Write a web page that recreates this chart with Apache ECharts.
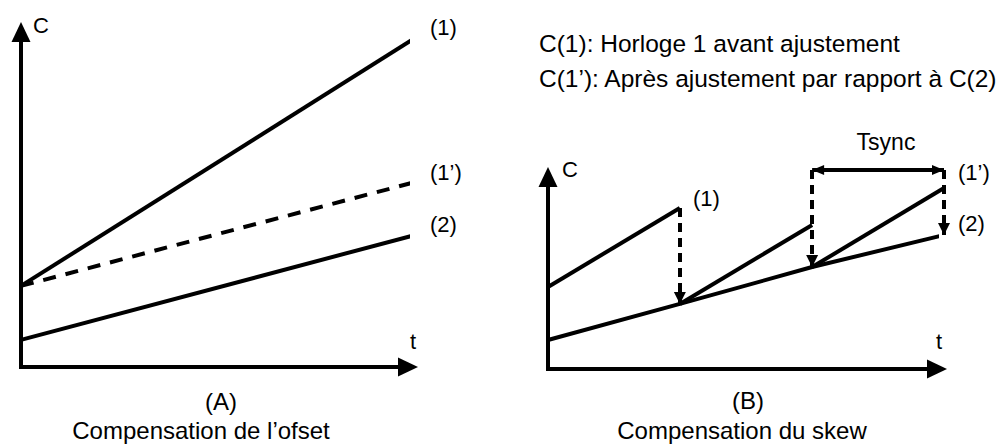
<!DOCTYPE html>
<html>
<head>
<meta charset="utf-8">
<title>Compensation offset / skew</title>
<script src="https://cdn.jsdelivr.net/npm/echarts@6/dist/echarts.min.js"></script>
<style>
  html, body { margin: 0; padding: 0; background: #fff; }
  #chart { width: 999px; height: 444px; }
</style>
</head>
<body>
<div id="chart"></div>
<script>
// (A) compensation de l'offset : horloges en fonction du temps
var offsetT = [0, 101.8];
var offsetC1 = [24.2, 98.2];
var offsetC1p = [24.2, 55.2];
var offsetC2 = [8.1, 39.4];

// (B) compensation du skew
var skewT = [0, 33.9, 67.9, 101.8];
var skewC2 = [15.1, 33.9, 53.1, 69.8];
var skewToothStart = [42.7, 33.9, 53.1];
var skewToothPeak = [83.9, 75.0, 94.3];
var skewCorrTop = [83.9, 103.6, 103.6];
var tsyncLevel = 103.6;

var legendLines = ['C(1): Horloge 1 avant ajustement', 'C(1’): Après ajustement par rapport à C(2)'];

var FONT = '"Liberation Sans", Arial, sans-serif';
var LW = 4;

function pts(xs, ys) {
  return xs.map(function (x, i) { return [x, ys[i]]; });
}

function txt(str, x, y, size, align) {
  return {
    type: 'text', x: x, y: y, silent: true,
    style: { text: str, fontSize: size, fontFamily: FONT, fill: '#000', align: align || 'left', verticalAlign: 'middle' }
  };
}

function axis(idx) {
  return {
    type: 'value', gridIndex: idx, min: 0, max: 100,
    axisLine: {
      show: true, onZero: false,
      symbol: ['none', 'triangle'], symbolSize: [19, 20],
      lineStyle: { color: '#000', width: 4, cap: 'square' }
    },
    axisTick: { show: false }, axisLabel: { show: false }, splitLine: { show: false }
  };
}

function solid(xi, data, dash) {
  return {
    type: 'line', xAxisIndex: xi, yAxisIndex: xi, data: data, clip: false,
    showSymbol: false, symbol: 'none', silent: true, animation: false,
    lineStyle: { color: '#000', width: LW, type: dash || 'solid' }
  };
}

var teeth = [], corrections = [], heads = [];
for (var i = 0; i < skewToothPeak.length; i++) {
  teeth.push({ coords: [[skewT[i], skewToothStart[i]], [skewT[i + 1], skewToothPeak[i]]] });
  corrections.push({ coords: [[skewT[i + 1], skewCorrTop[i]], [skewT[i + 1], skewC2[i + 1]]] });
  heads.push({ value: [skewT[i + 1], skewC2[i + 1]], symbolRotate: 180, symbolOffset: [0, -6], symbolSize: [12, 12] });
}
heads.push({ value: [skewT[2], tsyncLevel], symbolRotate: 90, symbolOffset: [6, 0], symbolSize: [10, 12] });
heads.push({ value: [skewT[3], tsyncLevel], symbolRotate: -90, symbolOffset: [-6, 0], symbolSize: [10, 12] });

var chart = echarts.init(document.getElementById('chart'), null, { renderer: 'svg' });
chart.setOption({
  animation: false,
  backgroundColor: '#fff',
  grid: [
    { left: 21, top: 32, width: 387, height: 335 },
    { left: 548, top: 177, width: 389, height: 192 }
  ],
  xAxis: [axis(0), axis(1)],
  yAxis: [axis(0), axis(1)],
  series: [
    solid(0, pts(offsetT, offsetC1)),
    solid(0, pts(offsetT, offsetC1p), [13, 10]),
    solid(0, pts(offsetT, offsetC2)),
    solid(1, pts(skewT, skewC2)),
    {
      type: 'lines', coordinateSystem: 'cartesian2d', xAxisIndex: 1, yAxisIndex: 1, clip: false,
      silent: true, symbol: 'none', data: teeth,
      lineStyle: { color: '#000', width: LW, opacity: 1, curveness: 0 }
    },
    {
      type: 'lines', coordinateSystem: 'cartesian2d', xAxisIndex: 1, yAxisIndex: 1, clip: false,
      silent: true, symbol: 'none', data: corrections,
      lineStyle: { color: '#000', width: LW, opacity: 1, type: [9, 6] }
    },
    {
      type: 'lines', coordinateSystem: 'cartesian2d', xAxisIndex: 1, yAxisIndex: 1, clip: false,
      silent: true, symbol: 'none',
      data: [{ coords: [[skewT[2], tsyncLevel], [skewT[3], tsyncLevel]] }],
      lineStyle: { color: '#000', width: LW, opacity: 1 }
    },
    {
      type: 'scatter', xAxisIndex: 1, yAxisIndex: 1, clip: false, silent: true,
      symbol: 'triangle', data: heads,
      itemStyle: { color: '#000', opacity: 1 }
    }
  ],
  graphic: [
    // panneau A
    txt('C', 33, 25, 22),
    txt('(1)', 430, 27, 22),
    txt('(1’)', 430, 172, 22),
    txt('(2)', 430, 224, 22),
    txt('t', 410, 341, 22),
    txt('(A)', 221, 401, 24, 'center'),
    txt('Compensation de l’ofset', 201, 430, 24, 'center'),
    // panneau B
    txt(legendLines[0], 539, 43, 24.5),
    txt(legendLines[1], 539, 78, 24.5),
    txt('Tsync', 886, 142, 23, 'center'),
    txt('C', 562, 169, 22),
    txt('(1)', 693, 198, 22),
    txt('(1’)', 958, 172, 22),
    txt('(2)', 958, 223, 22),
    txt('t', 936, 341, 22),
    txt('(B)', 748, 400, 24, 'center'),
    txt('Compensation du skew', 742, 430, 24, 'center')
  ]
});
window.addEventListener('resize', function () { chart.resize(); });
</script>
</body>
</html>
